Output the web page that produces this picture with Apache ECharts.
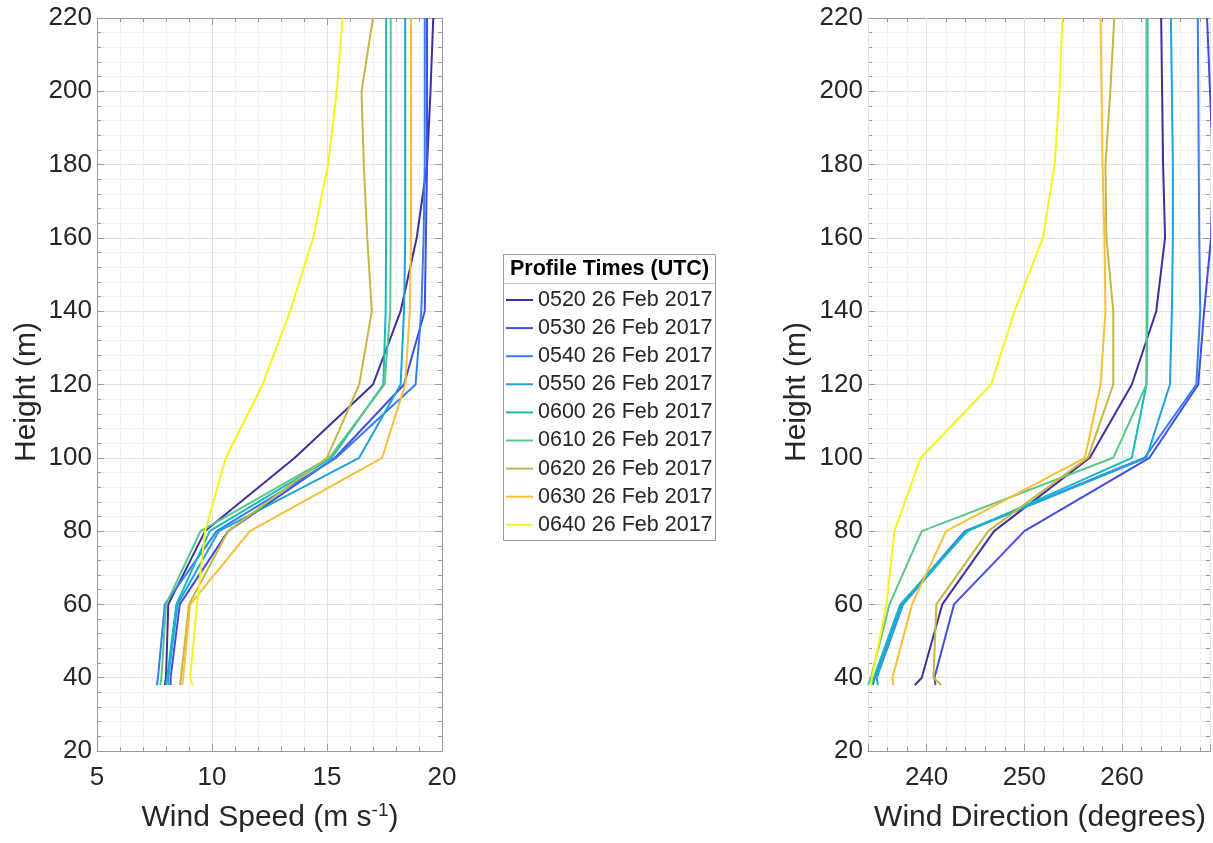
<!DOCTYPE html>
<html>
<head>
<meta charset="utf-8">
<script src="https://cdn.jsdelivr.net/npm/echarts@6/dist/echarts.min.js"></script>
<style>
  html, body { margin: 0; padding: 0; background: #ffffff; }
  #chart { width: 1213px; height: 843px; }
</style>
</head>
<body>
<div id="chart"></div>
<script>
// ---------------- data ----------------
const heights = [38, 40, 60, 80, 100, 120, 140, 160, 180, 200, 220];
const profileNames = ['0520 26 Feb 2017', '0530 26 Feb 2017', '0540 26 Feb 2017',
  '0550 26 Feb 2017', '0600 26 Feb 2017', '0610 26 Feb 2017',
  '0620 26 Feb 2017', '0630 26 Feb 2017', '0640 26 Feb 2017'];
const profileColors = ['#3d2fa3', '#434ce0', '#357ef2', '#1fa3dc', '#17bab8',
  '#5cc688', '#c4b843', '#f8bf38', '#f5f51a'];

// wind speed (m/s) per profile, at the heights above
const speed0520 = [7.95, 8.0, 8.1, 9.7, 13.6, 17.0, 18.2, 18.9, 19.35, 19.5, 19.62];
const speed0530 = [8.2, 8.2, 8.6, 10.7, 15.35, 18.35, 19.25, 19.3, 19.35, 19.35, 19.35];
const speed0540 = [7.6, 7.65, 7.95, 10.2, 15.4, 18.85, 19.1, 19.2, 19.25, 19.25, 19.25];
const speed0550 = [8.1, 8.1, 8.5, 10.3, 16.4, 18.2, 18.35, 18.4, 18.4, 18.4, 18.4];
const speed0600 = [8.0, 8.05, 8.45, 9.9, 15.2, 17.45, 17.55, 17.57, 17.57, 17.57, 17.57];
const speed0610 = [7.75, 7.8, 8.0, 9.5, 15.1, 17.5, 17.75, 17.77, 17.77, 17.77, 17.77];
const speed0620 = [8.6, 8.65, 9.0, 10.7, 15.0, 16.4, 16.95, 16.75, 16.6, 16.5, 17.0];
const speed0630 = [8.7, 8.75, 9.05, 11.65, 17.4, 18.4, 18.6, 18.65, 18.65, 18.65, 18.65];
const speed0640 = [9.15, 9.05, 9.35, 9.7, 10.6, 12.2, 13.4, 14.4, 15.05, 15.42, 15.68];

// wind direction (degrees) per profile
const dir0520 = [238.8, 239.5, 241.6, 246.9, 256.7, 261.0, 263.5, 264.4, 264.2, 264.1, 264.0];
const dir0530 = [240.9, 240.8, 242.8, 250.0, 262.8, 267.8, 268.4, 269.1, 269.3, 269.0, 268.7];
const dir0540 = [234.5, 234.7, 237.4, 243.9, 262.3, 267.6, 268.0, 267.9, 267.85, 267.8, 267.75];
const dir0550 = [235.0, 234.9, 237.6, 244.1, 262.5, 264.9, 265.1, 265.2, 265.2, 265.1, 265.0];
const dir0600 = [234.3, 234.6, 237.3, 244.2, 261.0, 262.5, 262.6, 262.6, 262.6, 262.6, 262.6];
const dir0610 = [234.0, 234.3, 236.2, 239.5, 259.1, 262.5, 262.5, 262.5, 262.5, 262.5, 262.5];
const dir0620 = [241.5, 240.7, 241.0, 246.3, 256.5, 259.1, 259.1, 258.4, 258.3, 258.8, 259.2];
const dir0630 = [236.6, 236.5, 238.5, 242.0, 256.2, 257.8, 258.3, 258.2, 258.0, 257.9, 257.8];
const dir0640 = [234.3, 234.4, 235.9, 236.7, 239.4, 246.6, 249.0, 251.9, 253.1, 253.6, 253.9];

const speedSets = [speed0520, speed0530, speed0540, speed0550, speed0600, speed0610, speed0620, speed0630, speed0640];
const dirSets = [dir0520, dir0530, dir0540, dir0550, dir0600, dir0610, dir0620, dir0630, dir0640];

// axis ranges / ticks
const speedMin = 5, speedMax = 20, speedStep = 5;
const dirMin = 234, dirMax = 269, dirMinorStep = 2;
const heightMin = 20, heightMax = 220, heightStep = 20;

// ---------------- styling ----------------
const FONT = '"Liberation Sans", Arial, Helvetica, sans-serif';
const TXT = '#262626';
const AX = '#9a9a9a';
const GRIDC = '#e2e2e2';
const MINORC = '#f1f1f1';

function xAxisBase(gridIndex, position) {
  return {
    type: 'value', gridIndex: gridIndex, position: position,
    axisLine: { show: true, onZero: false, lineStyle: { color: AX, width: 1 } },
    axisTick: { show: true, inside: true, length: 7, lineStyle: { color: AX } },
    axisLabel: { show: false },
    splitLine: { show: false }
  };
}

const labelStyle = { fontSize: 26, color: TXT, fontFamily: FONT };

const xAxes = [
  // left grid bottom
  Object.assign(xAxisBase(0, 'bottom'), {
    min: speedMin, max: speedMax, interval: speedStep,
    minorTick: { show: true, splitNumber: 5, length: 4, lineStyle: { color: AX } },
    axisLabel: Object.assign({ show: true, margin: 14 }, labelStyle),
    splitLine: { show: true, lineStyle: { color: GRIDC } },
    minorSplitLine: { show: true, lineStyle: { color: MINORC } }
  }),
  // left grid top (ticks only)
  Object.assign(xAxisBase(0, 'top'), {
    min: speedMin, max: speedMax, interval: speedStep,
    minorTick: { show: true, splitNumber: 5, length: 4, lineStyle: { color: AX } }
  }),
  // right grid bottom: minor ticks every 2 deg, labels at multiples of 10
  Object.assign(xAxisBase(1, 'bottom'), {
    min: dirMin, max: dirMax, interval: dirMinorStep,
    axisTick: { show: true, inside: true, length: 4, lineStyle: { color: AX } },
    axisLabel: Object.assign({ show: true, margin: 14,
      formatter: function (v) { return (Math.round(v) % 10 === 0) ? String(Math.round(v)) : ''; } }, labelStyle),
    splitLine: { show: true, lineStyle: { color: MINORC } }
  }),
  // right grid bottom: major ticks (nice interval of 10)
  Object.assign(xAxisBase(1, 'bottom'), {
    min: dirMin, max: dirMax, splitNumber: 4, z: 1,
    axisLine: { show: false, onZero: false },
    splitLine: { show: true, lineStyle: { color: GRIDC } }
  }),
  // right grid top minor ticks
  Object.assign(xAxisBase(1, 'top'), {
    min: dirMin, max: dirMax, interval: dirMinorStep,
    axisTick: { show: true, inside: true, length: 4, lineStyle: { color: AX } }
  }),
  // right grid top major ticks
  Object.assign(xAxisBase(1, 'top'), {
    min: dirMin, max: dirMax, splitNumber: 4,
    axisLine: { show: false, onZero: false }
  })
];

function yAxisBase(gridIndex, position, withLabels) {
  const a = {
    type: 'value', gridIndex: gridIndex, position: position,
    min: heightMin, max: heightMax, interval: heightStep,
    axisLine: { show: true, onZero: false, lineStyle: { color: AX, width: 1 } },
    axisTick: { show: true, inside: true, length: 7, lineStyle: { color: AX } },
    minorTick: { show: true, splitNumber: 5, length: 4, lineStyle: { color: AX } },
    axisLabel: { show: false },
    splitLine: { show: false }
  };
  if (withLabels) {
    a.axisLabel = Object.assign({ show: true, margin: 5 }, labelStyle);
    a.splitLine = { show: true, lineStyle: { color: GRIDC } };
    a.minorSplitLine = { show: true, lineStyle: { color: MINORC } };
  }
  return a;
}

const yAxes = [
  yAxisBase(0, 'left', true),
  yAxisBase(0, 'right', false),
  yAxisBase(1, 'left', true),
  yAxisBase(1, 'right', false)
];

const series = [];
profileNames.forEach(function (name, i) {
  series.push({
    name: name, type: 'line', xAxisIndex: 0, yAxisIndex: 0,
    data: heights.map(function (h, k) { return [speedSets[i][k], h]; }),
    symbol: 'none', showSymbol: false, clip: true,
    lineStyle: { width: 2, color: profileColors[i] },
    itemStyle: { color: profileColors[i] }
  });
  series.push({
    name: name, type: 'line', xAxisIndex: 2, yAxisIndex: 2,
    data: heights.map(function (h, k) { return [dirSets[i][k], h]; }),
    symbol: 'none', showSymbol: false, clip: true,
    lineStyle: { width: 2, color: profileColors[i] },
    itemStyle: { color: profileColors[i] }
  });
});

const titleStyle = { fontSize: 30, fill: TXT, fontFamily: FONT, align: 'center', verticalAlign: 'middle' };

const option = {
  backgroundColor: '#ffffff',
  animation: false,
  grid: [
    { left: 97, top: 18, width: 345, height: 733, containLabel: false },
    { left: 868, top: 18, width: 344, height: 733, containLabel: false }
  ],
  xAxis: xAxes,
  yAxis: yAxes,
  legend: {
    data: profileNames,
    orient: 'vertical',
    left: 506, top: 288,
    padding: 0,
    icon: 'rect',
    itemWidth: 27, itemHeight: 2, itemGap: 4.1,
    selectedMode: false,
    textStyle: { fontSize: 21.5, color: TXT, fontFamily: FONT, lineHeight: 24 },
    z: 10
  },
  graphic: [
    { type: 'rect', z: 5, shape: { x: 503.5, y: 254.5, width: 212, height: 286 },
      style: { fill: '#ffffff', stroke: '#9a9a9a', lineWidth: 1 } },
    { type: 'line', z: 6, shape: { x1: 503.5, y1: 283.5, x2: 715.5, y2: 283.5 },
      style: { stroke: '#c8c8c8', lineWidth: 1 } },
    { type: 'text', z: 6, x: 609.5, y: 269,
      style: { text: 'Profile Times (UTC)', fontSize: 21.5, fontWeight: 'bold', fill: '#000000',
        fontFamily: FONT, align: 'center', verticalAlign: 'middle' } },
    { type: 'text', x: 27, y: 392, rotation: Math.PI / 2,
      style: Object.assign({ text: 'Height (m)' }, titleStyle) },
    { type: 'text', x: 797, y: 392, rotation: Math.PI / 2,
      style: Object.assign({ text: 'Height (m)' }, titleStyle) },
    { type: 'text', x: 270, y: 818,
      style: Object.assign({ text: 'Wind Speed (m s{sup|-1})',
        rich: { sup: { fontSize: 19, fill: TXT, fontFamily: FONT, verticalAlign: 'top', padding: [0, 0, 14, 0] } } }, titleStyle) },
    { type: 'text', x: 1040, y: 818,
      style: Object.assign({ text: 'Wind Direction (degrees)' }, titleStyle) }
  ],
  series: series
};

const chart = echarts.init(document.getElementById('chart'), null, { renderer: 'canvas' });
chart.setOption(option);
</script>
</body>
</html>
